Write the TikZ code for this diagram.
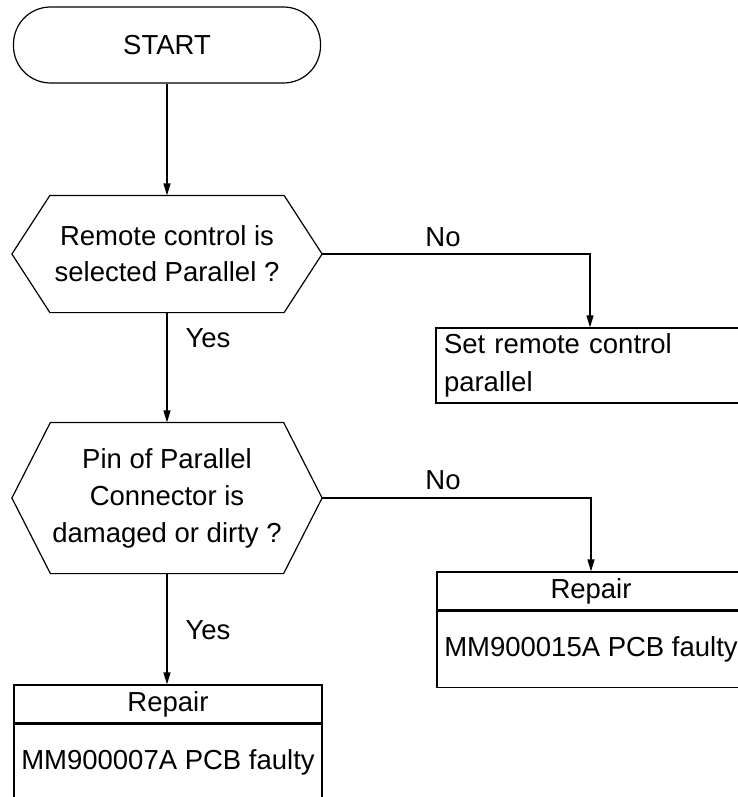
\documentclass[tikz,border=0pt]{standalone}
\usepackage{fontspec}
\setmainfont{Liberation Sans}
\usetikzlibrary{calc,arrows.meta}
\tikzset{
  txt/.style={font=\fontsize{27.5}{36}\selectfont},
  boxnode/.style={txt, draw, rectangle, inner sep=0pt, minimum width=308pt},
  hexnode/.style={txt, rectangle, inner sep=0pt, align=center},
  arr/.style={-{Triangle[length=12pt,width=7pt]}},
  lbl/.style={txt, inner sep=0pt},
}
\newcommand{\hexdraw}[2]{%
  \draw (#1.west) -- ($(#1.north west)+(#2,0)$) -- ($(#1.north east)+(-#2,0)$) -- (#1.east)
    -- ($(#1.south east)+(-#2,0)$) -- ($(#1.south west)+(#2,0)$) -- cycle;}
\begin{document}
\begin{tikzpicture}[x=1pt,y=-1pt,line width=1.2pt]
\useasboundingbox (0,0) rectangle (738,797);
\clip (0,0) rectangle (738,797);
\fill[white] (0,0) rectangle (738,797);

\node[txt, draw, rectangle, rounded corners=37pt, minimum width=307pt, minimum height=76pt, inner sep=0pt] (start) at (167,45) {START};

\node[hexnode, minimum width=309pt, minimum height=116pt] (q1) at (167,254) {Remote control is\\selected Parallel ?};
\hexdraw{q1}{38}

\node[boxnode, minimum height=75pt, text width=292pt, align=left, inner xsep=8pt] (set) at (590,365.5) {Set remote control\\[2pt]parallel};

\node[hexnode, minimum width=309pt, minimum height=150pt, font=\fontsize{27.5}{37}\selectfont] (q2) at (167,498) {Pin of Parallel\\Connector is\\damaged or dirty ?};
\hexdraw{q2}{38.5}

\node[boxnode, minimum height=38pt] (r2h) at (591,591) {Repair};
\node[boxnode, minimum height=76pt, anchor=north] (r2b) at (r2h.south) {MM900015A PCB faulty};

\node[boxnode, minimum height=38pt] (r1h) at (168,704) {Repair};
\node[boxnode, minimum height=76pt, anchor=north] (r1b) at (r1h.south) {MM900007A PCB faulty};

\draw[arr] (start.south) -- (q1.north);
\draw[arr] (q1.south) -- (q2.north);
\draw[arr] (q2.south) -- (q2.south |- r1h.north);
\draw[arr] (q1.east) -| (set.north);
\draw[arr] (q2.east) -| (r2h.north);

\node[lbl] (no1) at (443,237) {No};
\node[lbl] (no2) at (443,480) {No};
\node[lbl] (yes1) at (208,338) {Yes};
\node[lbl] (yes2) at (208,630) {Yes};
\end{tikzpicture}
\end{document}
